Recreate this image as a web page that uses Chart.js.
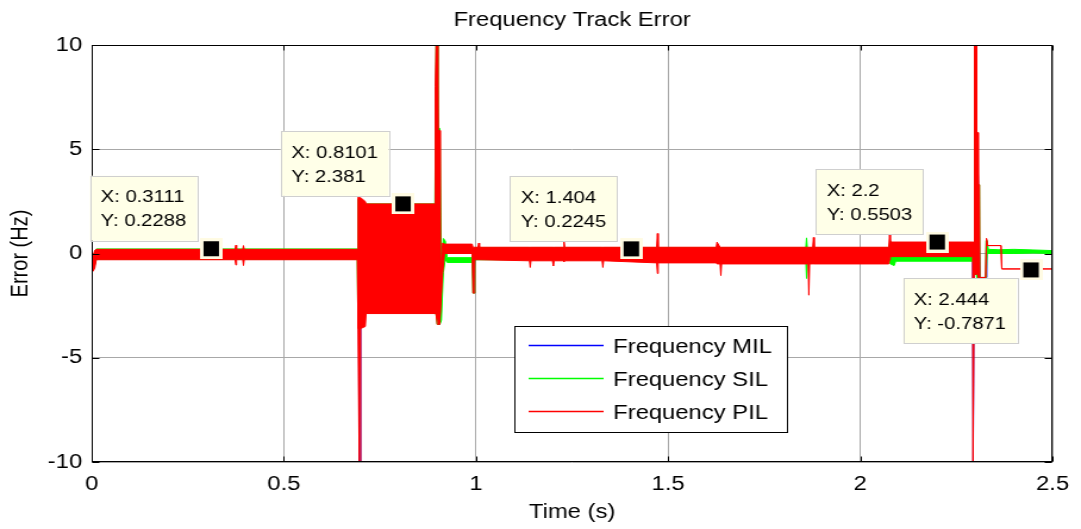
<!DOCTYPE html>
<html>
<head>
<meta charset="utf-8">
<title>Frequency Track Error</title>
<script src="https://cdn.jsdelivr.net/npm/chart.js@4"></script>
<style>
  html, body { margin: 0; padding: 0; background: #fff; overflow: hidden; }
  /* the reference is stretched sideways, so draw narrower and stretch */
  #wrap { width: 908px; height: 529px; transform: scaleX(1.1905); transform-origin: 0 0; }
</style>
</head>
<body>
<div id="wrap"><canvas id="freqChart"></canvas></div>
<script>
// ---- data ----
const seriesNames = ['Frequency MIL', 'Frequency SIL', 'Frequency PIL'];
const xTickValues = [0, 0.5, 1, 1.5, 2, 2.5];
const yTickValues = [-10, -5, 0, 5, 10];

// PIL (red): upper / lower edge of the oscillating band
const pilT  = [0, 0.004, 0.008, 0.012, 0.373, 0.375, 0.377, 0.393, 0.395, 0.397, 0.691,
               0.693, 0.696, 0.698, 0.7, 0.712, 0.714, 0.893, 0.894, 0.896, 0.899, 0.901, 0.905, 0.907, 0.913, 0.918,
               0.99, 0.992, 0.995, 0.997, 1.005, 1.007, 1.009, 1.139, 1.141, 1.143, 1.199, 1.201, 1.203,
               1.227, 1.229, 1.231, 1.328, 1.33, 1.332, 1.47, 1.472, 1.474, 1.625, 1.627, 1.635, 1.637, 1.639,
               1.864, 1.866, 1.868, 1.876, 1.878, 1.88, 2.074, 2.076, 2.078, 2.292, 2.293, 2.295, 2.296,
               2.297, 2.302, 2.303, 2.306, 2.307, 2.31, 2.311, 2.326, 2.328, 2.331, 2.366, 2.368, 2.5];
const pilHi = [-0.2, -0.1, 0.15, 0.2, 0.2, 0.4, 0.2, 0.2, 0.38, 0.2, 0.2,
               2.7, 2.7, 2.7, 2.7, 2.5, 2.38, 2.38, 8.0, 10, 10, 5.9, 5.9, -1.0, 0.5, 0.45,
               0.45, 0.3, 0.3, 0.3, 0.3, 0.5, 0.3, 0.3, 0.3, 0.3, 0.3, 0.3, 0.3,
               0.3, 0.55, 0.3, 0.3, 0.3, 0.3, 0.3, 0.96, 0.3, 0.3, 0.55, 0.3, 0.3, 0.3,
               0.3, 0.3, 0.3, 0.3, 0.77, 0.3, 0.3, 0.9, 0.55, 0.55, 0.55, 0.55, 0.55,
               10, 10, 5.8, 5.8, 3.3, 3.3, -1.15, -1.15, 0.72, 0.38, 0.38, -0.74, -0.74];
const pilLo = [-0.6, -0.85, -0.7, -0.3, -0.3, -0.55, -0.3, -0.3, -0.58, -0.3, -0.3,
               -3.6, -10, -10, -3.6, -3.5, -2.88, -2.88, -2.9, -2.9, -3.4, -3.4, -3.4, -3.4, -1.0, 0.0,
               0.0, -1.9, -1.9, -0.3, -0.3, -0.3, -0.3, -0.35, -0.67, -0.35, -0.35, -0.6, -0.35,
               -0.35, -0.4, -0.35, -0.35, -0.67, -0.35, -0.45, -0.96, -0.45, -0.45, -0.5, -0.5, -1.06, -0.5,
               -0.5, -2.0, -0.5, -0.5, -0.5, -0.5, -0.5, -0.3, -0.15, -0.15, -10, -10, -1.0,
               -1.0, -1.0, -1.0, -1.0, -1.15, -1.15, -1.15, -1.15, 0.72, 0.38, 0.38, -0.74, -0.74];

// SIL (green): upper / lower edge
const silT  = [0, 0.004, 0.012, 0.691, 0.693, 0.714, 0.893, 0.896, 0.899, 0.901, 0.906, 0.91, 0.915,
               0.92, 0.925, 0.99, 0.992, 0.995, 0.997, 1.858, 1.86, 1.862, 2.074, 2.078, 2.088, 2.092, 2.296,
               2.297, 2.302, 2.303, 2.31, 2.311, 2.326, 2.327, 2.33, 2.333, 2.36, 2.4, 2.45, 2.5];
const silHi = [-0.2, -0.1, 0.22, 0.22, 2.6, 2.38, 2.38, 10, 10, 6.0, 6.0, -0.9, 0.72,
               0.6, -0.2, -0.2, 0.2, 0.2, 0.28, 0.28, 0.75, 0.28, 0.28, 0.6, -0.1, -0.1, -0.1,
               10, 10, 3.3, 3.3, -1.15, -1.15, 0.62, 0.62, 0.2, 0.18, 0.2, 0.17, 0.14];
const silLo = [-0.6, -0.8, -0.28, -0.28, -3.5, -2.85, -2.85, -2.9, -3.4, -3.4, -3.4, -3.2, -0.9,
               -0.3, -0.43, -0.43, -1.9, -1.9, -0.3, -0.3, -1.2, -0.3, -0.3, -0.5, -0.58, -0.37, -0.37,
               -1.0, -1.0, -1.15, -1.15, -1.15, -1.15, -1.15, 0.0, 0.0, 0.0, 0.0, 0.02, 0.0];

// MIL (blue): mostly hidden under the other two
const milT = [0, 0.004, 0.012, 0.694, 0.696, 0.698, 0.7, 0.714, 0.894, 0.897, 0.901, 0.906, 0.915, 0.99, 0.994,
              0.997, 2.076, 2.08, 2.292, 2.2935, 2.2945, 2.296, 2.298, 2.303, 2.307, 2.311, 2.327, 2.329, 2.332, 2.5];
const milY = [-0.5, -0.8, 0, 0, -10, -10, 0, 0, 0, 10, 5.9, -3.4, 0.3, 0.2, -1.9,
              0, 0, 0.2, 0.2, -10, -10, -1.0, 10, 5.8, 3.3, -1.15, -1.15, 0.6, 0.08, 0.08];

// data tips
const tipX = [0.3111, 0.8101, 1.404, 2.2, 2.444];
const tipY = [0.2288, 2.381, 0.2245, 0.5503, -0.7871];
const tipBelow = [false, false, false, false, true];

// ---- drawing ----
const FONT = "'Liberation Sans', Arial, Helvetica, sans-serif";
Chart.defaults.font.family = FONT;
Chart.defaults.color = '#000';

const pts = (t, v) => t.map((x, i) => ({ x: x, y: v[i] }));
const colMIL = '#0000ff', colSIL = '#00ff00', colPIL = '#ff0000';

function makeMarker() {
    const c = document.createElement('canvas');
    c.width = 19;
    c.height = 21;
    const g = c.getContext('2d');
    g.fillStyle = '#fffbe3';
    g.fillRect(0, 0, 19, 21);
    g.fillStyle = '#000';
    g.fillRect(3, 3, 13, 15);
    return c;
}

const fmt = v => String(Number(v.toPrecision(4)));

// frame + inward tick marks, like the original axes box
const frame = {
    id: 'frame',
    afterDatasetsDraw(chart) {
        const { ctx, chartArea: a, scales: { x, y } } = chart;
        const L = Math.round(a.left) + 0.5, R = Math.round(a.right) - 0.5;
        const T = Math.round(a.top) + 0.5, B = Math.round(a.bottom) - 0.5;
        ctx.save();
        ctx.strokeStyle = '#000';
        ctx.lineWidth = 1;
        ctx.strokeRect(L, T, R - L, B - T);
        ctx.beginPath();
        xTickValues.forEach(v => {
            const px = Math.round(x.getPixelForValue(v)) + 0.5;
            ctx.moveTo(px, B); ctx.lineTo(px, B - 5);
            ctx.moveTo(px, T); ctx.lineTo(px, T + 5);
        });
        yTickValues.forEach(v => {
            const py = Math.round(y.getPixelForValue(v)) + 0.5;
            ctx.moveTo(L, py); ctx.lineTo(L + 6, py);
            ctx.moveTo(R, py); ctx.lineTo(R - 6, py);
        });
        ctx.stroke();
        ctx.restore();
    }
};

// boxed legend inside the plot
const legendBox = {
    id: 'legendBox',
    afterDatasetsDraw(chart) {
        const ctx = chart.ctx;
        const box = { left: 432, top: 326, width: 229, height: 106 };
        const colors = [colMIL, colSIL, colPIL];
        ctx.save();
        ctx.fillStyle = '#fff';
        ctx.fillRect(box.left, box.top, box.width, box.height);
        ctx.strokeStyle = '#000';
        ctx.lineWidth = 1;
        ctx.strokeRect(box.left + 0.5, box.top + 0.5, box.width, box.height);
        ctx.font = '20px ' + FONT;
        ctx.textBaseline = 'middle';
        ctx.textAlign = 'left';
        seriesNames.forEach((name, i) => {
            const ly = box.top + 19.5 + i * 33;
            ctx.strokeStyle = colors[i];
            ctx.lineWidth = 1.4;
            ctx.beginPath();
            ctx.moveTo(box.left + 12, ly);
            ctx.lineTo(box.left + 75, ly);
            ctx.stroke();
            ctx.fillStyle = '#000';
            ctx.fillText(name, box.left + 83, ly + 2);
        });
        ctx.restore();
    }
};

// MATLAB-style data tip boxes
const dataTips = {
    id: 'dataTips',
    afterDatasetsDraw(chart) {
        const { ctx, scales: { x, y } } = chart;
        ctx.save();
        ctx.font = '17px ' + FONT;
        ctx.textBaseline = 'middle';
        ctx.textAlign = 'left';
        tipX.forEach((tx, i) => {
            const px = x.getPixelForValue(tx);
            const py = y.getPixelForValue(tipY[i]);
            const l1 = 'X: ' + fmt(tx);
            const l2 = 'Y: ' + fmt(tipY[i]);
            const w = Math.max(ctx.measureText(l1).width, ctx.measureText(l2).width) + 18;
            const h = 65;
            const right = px - 12;
            const top = tipBelow[i] ? py + 8.5 : py - 8 - h;
            const left = right - w;
            ctx.fillStyle = '#ffffe8';
            ctx.fillRect(left, top, w, h);
            ctx.strokeStyle = '#cfcfcf';
            ctx.lineWidth = 1;
            ctx.strokeRect(Math.round(left) + 0.5, Math.round(top) + 0.5, Math.round(w), h);
            ctx.fillStyle = '#000';
            ctx.fillText(l1, left + 9, top + 22);
            ctx.fillText(l2, left + 9, top + 46);
        });
        ctx.restore();
    }
};

const ctx = document.getElementById('freqChart').getContext('2d');
const freqChart = new Chart(ctx, {
    type: 'line',
    data: {
        datasets: [
            {
                label: seriesNames[2], data: pts(pilT, pilHi), borderColor: colPIL, backgroundColor: colPIL,
                borderWidth: 1, pointRadius: 0, fill: '+1', order: 1
            },
            {
                label: seriesNames[2] + ' lo', data: pts(pilT, pilLo), borderColor: colPIL,
                borderWidth: 1, pointRadius: 0, fill: false, order: 1
            },
            {
                label: seriesNames[1], data: pts(silT, silHi), borderColor: colSIL, backgroundColor: colSIL,
                borderWidth: 1, pointRadius: 0, fill: '+1', order: 2
            },
            {
                label: seriesNames[1] + ' lo', data: pts(silT, silLo), borderColor: colSIL,
                borderWidth: 1, pointRadius: 0, fill: false, order: 2
            },
            {
                label: seriesNames[0], data: pts(milT, milY), borderColor: colMIL,
                borderWidth: 1, pointRadius: 0, fill: false, order: 3
            },
            {
                label: 'tips', data: pts(tipX, tipY), showLine: false,
                pointStyle: makeMarker(), pointRadius: 8, order: 0
            }
        ]
    },
    options: {
        responsive: true,
        maintainAspectRatio: false,
        animation: false,
        events: [],
        layout: { padding: { left: 0, right: 19, top: 0, bottom: 0 } },
        plugins: {
            legend: { display: false },
            tooltip: { enabled: false },
            title: {
                display: true,
                text: 'Frequency Track Error',
                fullSize: false,
                color: '#000',
                font: { size: 20, weight: 'normal', lineHeight: 1.2 },
                padding: { top: 8.5, bottom: 12.5 }
            }
        },
        scales: {
            x: {
                type: 'linear',
                min: 0,
                max: 2.5,
                afterBuildTicks: s => { s.ticks = xTickValues.map(v => ({ value: v })); },
                afterFit: s => { s.height = 67; },
                grid: { color: '#a8a8a8', drawTicks: false },
                border: { display: false },
                ticks: { padding: 10, font: { size: 20 }, maxRotation: 0, callback: v => String(v) },
                title: { display: true, text: 'Time (s)', font: { size: 20, lineHeight: 1.2 }, padding: { top: 0, bottom: 5 } }
            },
            y: {
                min: -10,
                max: 10,
                afterBuildTicks: s => { s.ticks = yTickValues.map(v => ({ value: v })); },
                afterFit: s => { s.width = 77; },
                grid: { color: '#a8a8a8', drawTicks: false },
                border: { display: false },
                ticks: { padding: 8, font: { size: 20 }, callback: v => String(v) },
                title: { display: true, text: 'Error (Hz)', font: { size: 20, lineHeight: 1.2 }, padding: { top: 5, bottom: 0 } }
            }
        }
    },
    plugins: [frame, legendBox, dataTips]
});
</script>
</body>
</html>
